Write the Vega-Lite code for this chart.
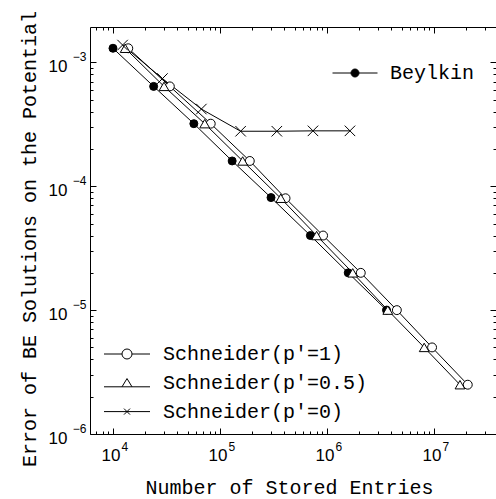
{
  "$schema": "https://vega.github.io/schema/vega-lite/v6.json",
  "width": 406,
  "height": 407,
  "autosize": {"type": "none"},
  "padding": {"left": 90, "top": 27, "right": 0, "bottom": 65},
  "background": "white",
  "config": {
    "view": {"stroke": null},
    "axis": {
      "domainColor": "black", "domainWidth": 1, "tickColor": "black", "tickWidth": 1,
      "labelColor": "black", "titleColor": "black", "grid": false,
      "labelFont": "Liberation Sans", "labelFontSize": 17,
      "titleFont": "Liberation Mono", "titleFontSize": 20, "titleFontWeight": "normal",
      "labelOverlap": false, "labelFlush": false, "labelLimit": 0
    },
    "legend": {
      "labelFont": "Liberation Mono", "labelFontSize": 20, "labelColor": "black",
      "padding": 0, "symbolStrokeWidth": 1, "symbolSize": 100, "labelLimit": 400
    }
  },
  "data": {
    "values": [
      {"series": "Beylkin", "n": 10000, "err": 0.0013},
      {"series": "Beylkin", "n": 24000, "err": 0.00064},
      {"series": "Beylkin", "n": 57000, "err": 0.00032},
      {"series": "Beylkin", "n": 130000, "err": 0.00016},
      {"series": "Beylkin", "n": 300000, "err": 0.000081},
      {"series": "Beylkin", "n": 700000, "err": 0.00004},
      {"series": "Beylkin", "n": 1580000, "err": 0.00002},
      {"series": "Beylkin", "n": 3600000, "err": 0.00001},
      {"series": "Schneider(p'=1)", "n": 13900, "err": 0.0013},
      {"series": "Schneider(p'=1)", "n": 34000, "err": 0.00064},
      {"series": "Schneider(p'=1)", "n": 82000, "err": 0.00032},
      {"series": "Schneider(p'=1)", "n": 190000, "err": 0.00016},
      {"series": "Schneider(p'=1)", "n": 410000, "err": 0.00008},
      {"series": "Schneider(p'=1)", "n": 920000, "err": 0.00004},
      {"series": "Schneider(p'=1)", "n": 2070000, "err": 0.00002},
      {"series": "Schneider(p'=1)", "n": 4500000, "err": 0.00001},
      {"series": "Schneider(p'=1)", "n": 9600000, "err": 0.000005},
      {"series": "Schneider(p'=1)", "n": 20700000, "err": 0.0000025},
      {"series": "Schneider(p'=0.5)", "n": 13000, "err": 0.0013},
      {"series": "Schneider(p'=0.5)", "n": 30000, "err": 0.00064},
      {"series": "Schneider(p'=0.5)", "n": 72000, "err": 0.00032},
      {"series": "Schneider(p'=0.5)", "n": 163000, "err": 0.00016},
      {"series": "Schneider(p'=0.5)", "n": 370000, "err": 0.00008},
      {"series": "Schneider(p'=0.5)", "n": 800000, "err": 0.00004},
      {"series": "Schneider(p'=0.5)", "n": 1740000, "err": 0.00002},
      {"series": "Schneider(p'=0.5)", "n": 3700000, "err": 0.00001},
      {"series": "Schneider(p'=0.5)", "n": 8100000, "err": 0.000005},
      {"series": "Schneider(p'=0.5)", "n": 17500000, "err": 0.0000025},
      {"series": "Schneider(p'=0)", "n": 12300, "err": 0.00138},
      {"series": "Schneider(p'=0)", "n": 29000, "err": 0.00074},
      {"series": "Schneider(p'=0)", "n": 67000, "err": 0.00042},
      {"series": "Schneider(p'=0)", "n": 156000, "err": 0.000278},
      {"series": "Schneider(p'=0)", "n": 340000, "err": 0.000278},
      {"series": "Schneider(p'=0)", "n": 740000, "err": 0.00028},
      {"series": "Schneider(p'=0)", "n": 1640000, "err": 0.00028}
    ]
  },
  "layer": [
    {
      "mark": {"type": "line", "stroke": "black", "strokeWidth": 1},
      "encoding": {
        "x": {"field": "n", "type": "quantitative",
          "scale": {"type": "log", "domain": [6100, 38000000], "nice": false},
          "axis": {
            "orient": "bottom",
            "values": [7000, 8000, 9000, 10000, 20000, 30000, 40000, 50000, 60000, 70000, 80000, 90000, 100000, 200000, 300000, 400000, 500000, 600000, 700000, 800000, 900000, 1000000, 2000000, 3000000, 4000000, 5000000, 6000000, 7000000, 8000000, 9000000, 10000000, 20000000, 30000000],
            "labelExpr": "(datum.value == 10000 || datum.value == 100000 || datum.value == 1000000 || datum.value == 10000000) ? '10' : ''",
            "tickSize": {"condition": {"test": "abs(log(datum.value)/LN10 - round(log(datum.value)/LN10)) < 0.000001", "value": -6}, "value": -3},
            "labelPadding": 32.7, "labelBaseline": "alphabetic", "labelAlign": "right", "labelOffset": 7,
            "title": "Number of Stored Entries", "titleX": 199, "titleY": 59,
            "titleAlign": "center", "titleBaseline": "alphabetic"
          }
        },
        "y": {"field": "err", "type": "quantitative",
          "scale": {"type": "log", "domain": [0.000001, 0.00193], "nice": false},
          "axis": {
            "orient": "left",
            "values": [0.000001, 0.000002, 0.000003, 0.000004, 0.000005, 0.000006, 0.000007, 0.000008, 0.000009, 0.00001, 0.00002, 0.00003, 0.00004, 0.00005, 0.00006, 0.00007, 0.00008, 0.00009, 0.0001, 0.0002, 0.0003, 0.0004, 0.0005, 0.0006, 0.0007, 0.0008, 0.0009, 0.001],
            "labelExpr": "(datum.value == 0.001 || datum.value == 0.0001 || datum.value == 0.00001 || datum.value == 0.000001) ? '10' : ''",
            "tickSize": {"condition": {"test": "abs(log(datum.value)/LN10 - round(log(datum.value)/LN10)) < 0.000001", "value": -6}, "value": -3},
            "labelPadding": 29, "labelOffset": 9.2, "labelBaseline": "alphabetic", "labelAlign": "right",
            "title": "Error of BE Solutions on the Potential", "titleX": -55, "titleY": 211.5,
            "titleAngle": 270, "titleAlign": "center", "titleBaseline": "alphabetic"
          }
        },
        "detail": {"field": "series", "type": "nominal"}
      }
    },
    {
      "mark": {"type": "point", "filled": true, "stroke": "black", "strokeWidth": 1, "opacity": 1},
      "encoding": {
        "x": {"field": "n", "type": "quantitative", "axis": null},
        "y": {"field": "err", "type": "quantitative", "axis": null},
        "shape": {"field": "series", "type": "nominal", "legend": null,
          "scale": {"domain": ["Beylkin", "Schneider(p'=1)", "Schneider(p'=0.5)", "Schneider(p'=0)"],
                    "range": ["circle", "circle", "triangle-up", "M-1,-1L1,1M-1,1L1,-1"]}},
        "fill": {"field": "series", "type": "nominal", "legend": null,
          "scale": {"domain": ["Beylkin", "Schneider(p'=1)", "Schneider(p'=0.5)", "Schneider(p'=0)"],
                    "range": ["black", "white", "white", "white"]}},
        "size": {"field": "series", "type": "nominal", "legend": null,
          "scale": {"domain": ["Beylkin", "Schneider(p'=1)", "Schneider(p'=0.5)", "Schneider(p'=0)"],
                    "range": [64, 110, 105, 36]}}
      }
    },
    {
      "transform": [{"filter": "datum.n < 0"}],
      "mark": {"type": "point", "filled": false, "color": "black", "size": 100},
      "encoding": {
        "fill": {"value": "black"},
        "stroke": {"value": "black"},
        "strokeWidth": {"value": 1},
        "opacity": {"value": 1},
        "shape": {"field": "series", "type": "nominal",
          "scale": {"domain": ["Beylkin"],
                    "range": ["M-4.5,0L4.5,0M0.8,0L0.739,0.306L0.566,0.566L0.306,0.739L0,0.8L-0.306,0.739L-0.566,0.566L-0.739,0.306L-0.8,0L-0.739,-0.306L-0.566,-0.566L-0.306,-0.739L0,-0.8L0.306,-0.739L0.566,-0.566L0.739,-0.306Z"]},
          "legend": {"title": null, "orient": "none", "legendX": 255, "legendY": 36,
            "labelOffset": 25, "symbolSize": 100}
        }
      }
    },
    {
      "transform": [{"filter": "datum.n < 0"}],
      "mark": {"type": "point", "filled": false, "color": "black", "size": 100},
      "encoding": {
        "fill": {"value": "white"},
        "stroke": {"value": "black"},
        "strokeWidth": {"value": 1},
        "opacity": {"value": 1},
        "shape": {"field": "series", "type": "nominal",
          "scale": {"domain": ["Schneider(p'=1)", "Schneider(p'=0.5)", "Schneider(p'=0)"],
                    "range": [
                      "M-4.6,0L-1,0M1,0L4.6,0M1,0L0.924,0.383L0.707,0.707L0.383,0.924L0,1L-0.383,0.924L-0.707,0.707L-0.924,0.383L-1,0L-0.924,-0.383L-0.707,-0.707L-0.383,-0.924L0,-1L0.383,-0.924L0.707,-0.707L0.924,-0.383Z",
                      "M-4.6,0.8L-1,0.8M1,0.8L4.6,0.8M0,-0.85L-1,0.8L1,0.8Z",
                      "M-4.6,0L4.6,0M-0.6,-0.6L0.6,0.6M-0.6,0.6L0.6,-0.6"
                    ]},
          "legend": {"title": null, "orient": "none", "legendX": 27, "legendY": 317,
            "labelOffset": 26, "rowPadding": 8.8, "symbolSize": 100}
        }
      }
    },
    {
      "mark": {"type": "point", "opacity": 0},
      "encoding": {
        "x": {"field": "n", "type": "quantitative",
          "axis": {
            "orient": "top", "labels": false, "title": null,
            "values": [7000, 8000, 9000, 10000, 20000, 30000, 40000, 50000, 60000, 70000, 80000, 90000, 100000, 200000, 300000, 400000, 500000, 600000, 700000, 800000, 900000, 1000000, 2000000, 3000000, 4000000, 5000000, 6000000, 7000000, 8000000, 9000000, 10000000, 20000000, 30000000],
            "tickSize": {"condition": {"test": "abs(log(datum.value)/LN10 - round(log(datum.value)/LN10)) < 0.000001", "value": -6}, "value": -3}
          }
        },
        "y": {"field": "err", "type": "quantitative",
          "axis": {
            "orient": "right", "labels": false, "title": null, "domain": false,
            "values": [0.000001, 0.000002, 0.000003, 0.000004, 0.000005, 0.000006, 0.000007, 0.000008, 0.000009, 0.00001, 0.00002, 0.00003, 0.00004, 0.00005, 0.00006, 0.00007, 0.00008, 0.00009, 0.0001, 0.0002, 0.0003, 0.0004, 0.0005, 0.0006, 0.0007, 0.0008, 0.0009, 0.001],
            "tickSize": {"condition": {"test": "abs(log(datum.value)/LN10 - round(log(datum.value)/LN10)) < 0.000001", "value": -6}, "value": -3}
          }
        }
      }
    },
    {
      "mark": {"type": "point", "opacity": 0},
      "encoding": {
        "x": {"field": "n", "type": "quantitative",
          "axis": {
            "orient": "bottom", "ticks": false, "domain": false, "title": null,
            "values": [10000, 100000, 1000000, 10000000],
            "labelExpr": "datum.value == 10000 ? '4' : datum.value == 100000 ? '5' : datum.value == 1000000 ? '6' : '7'",
            "labelFontSize": 12, "labelPadding": 16.7, "labelBaseline": "alphabetic",
            "labelAlign": "left", "labelOffset": 8
          }
        },
        "y": {"field": "err", "type": "quantitative",
          "axis": {
            "orient": "left", "ticks": false, "domain": false, "title": null,
            "values": [0.000001, 0.00001, 0.0001, 0.001],
            "labelExpr": "datum.value == 0.001 ? '−3' : datum.value == 0.0001 ? '−4' : datum.value == 0.00001 ? '−5' : '−6'",
            "labelFontSize": 12, "labelPadding": 4, "labelBaseline": "alphabetic",
            "labelAlign": "right", "labelOffset": -1.8
          }
        }
      }
    }
  ],
  "resolve": {
    "scale": {"shape": "independent"},
    "axis": {"x": "independent", "y": "independent"}
  }
}
